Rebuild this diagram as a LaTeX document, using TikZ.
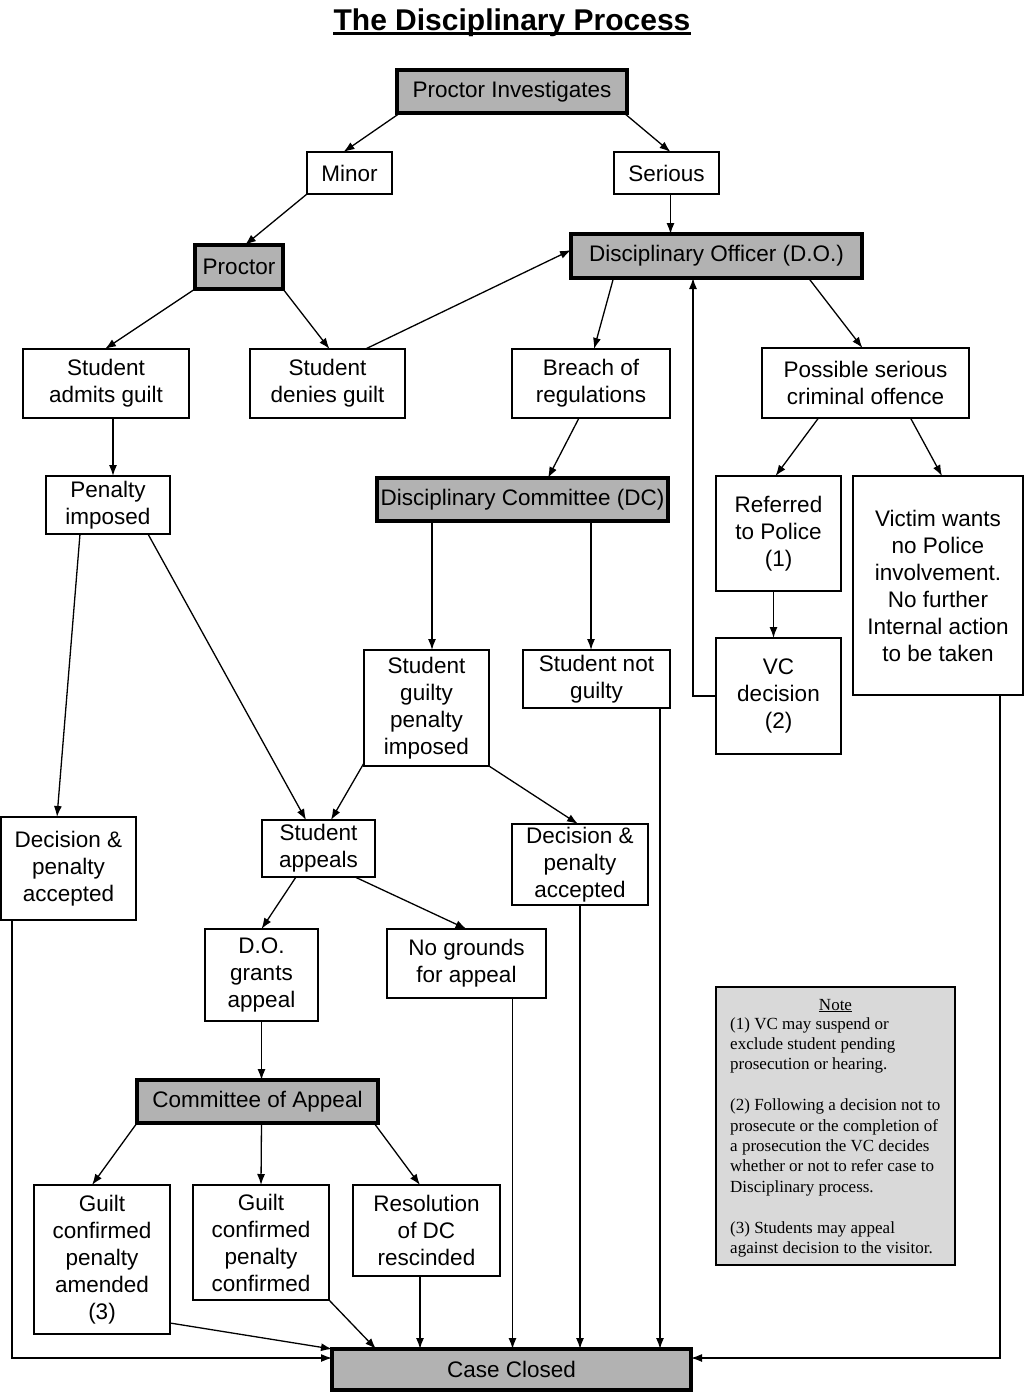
\documentclass[tikz,border=0pt]{standalone}
\usepackage{fontspec}
\setmainfont{Liberation Sans}
\newfontfamily\notefont{Liberation Serif}
\usepackage{tikz}
\usetikzlibrary{arrows.meta}
\definecolor{boxgray}{gray}{0.70}
\definecolor{notegray}{gray}{0.85}
\tikzset{>={Latex[length=11pt,width=8pt]}}
\tikzset{
  stage/.style={draw, line width=1.3pt, align=center, inner sep=0pt, outer sep=0pt,
                font=\fontsize{22.5}{27}\selectfont},
  mainstage/.style={stage, line width=4.5pt, fill=boxgray},
  boxsize/.style 2 args={minimum width=#1, minimum height=#2},
  link/.style={->, line width=1.3pt},
}

\begin{document}
\begin{tikzpicture}[x=1pt, y=-1pt]
  \useasboundingbox (0,0) rectangle (1024,1393);

  % titel
  \node[inner sep=0pt, anchor=base, font=\fontsize{30}{36}\selectfont\bfseries] (title) at (512,30) {The Disciplinary Process};
  \draw[line width=2.5pt] ([yshift=-3.5]title.base west) -- ([yshift=-3.5]title.base east);

  % boxes, placed at pixel coordinates
  \node[mainstage, boxsize={230}{43}] (pi)       at (512,91.5)    {Proctor Investigates};
  \node[stage, boxsize={85}{42}]      (minor)    at (349.5,173)   {Minor};
  \node[stage, boxsize={105}{42}]     (serious)  at (666.5,173)   {Serious};
  \node[mainstage, boxsize={88}{44}]  (proctor)  at (239,267)     {Proctor};
  \node[mainstage, boxsize={291}{44}] (do)       at (716.5,256)   {Disciplinary Officer (D.O.)};
  \node[stage, boxsize={166}{69}]     (admits)   at (106,383.5)   {Student\\admits guilt};
  \node[stage, boxsize={155}{69}]     (denies)   at (327.5,383.5) {Student\\denies guilt};
  \node[stage, boxsize={158}{69}]     (breach)   at (591,383.5)   {Breach of\\regulations};
  \node[stage, boxsize={207}{70}]     (possible) at (865.5,383)   {Possible serious\\criminal offence};
  \node[stage, boxsize={124}{58}]     (penalty)  at (108,505)     {Penalty\\imposed};
  \node[mainstage, boxsize={291}{43}] (dc)       at (522.5,499.5) {Disciplinary Committee (DC)};
  \node[stage, boxsize={125}{115}]    (referred) at (778.5,533.5) {Referred\\to Police\\(1)};
  \node[stage, boxsize={170}{219}]    (victim)   at (938,585.5)   {Victim wants\\no Police\\involvement.\\No further\\Internal action\\to be taken};
  \node[stage, boxsize={125}{116}]    (guilty)   at (426.5,708)   {Student\\guilty\\penalty\\imposed};
  \node[stage, boxsize={147}{58}]     (notguilty) at (596.5,679)  {Student not\\guilty};
  \node[stage, boxsize={125}{116}]    (vc)       at (778.5,696)   {VC\\decision\\(2)};
  \node[stage, boxsize={135}{103}]    (dec1)     at (68.5,868.5)  {Decision \&\\penalty\\accepted};
  \node[stage, boxsize={113}{57}]     (appeals)  at (318.5,848.5) {Student\\appeals};
  \node[stage, boxsize={136}{81}]     (dec2)     at (580,864.5)   {Decision \&\\penalty\\accepted};
  \node[stage, boxsize={113}{92}]     (dogrants) at (261.5,975)   {D.O.\\grants\\appeal};
  \node[stage, boxsize={159}{69}]     (nogrounds) at (466.5,963.5) {No grounds\\for appeal};
  \node[mainstage, boxsize={241}{43}] (coa)      at (257.5,1101.5) {Committee of Appeal};
  \node[stage, boxsize={136}{149}]    (amended)  at (102,1259.5)  {Guilt\\confirmed\\penalty\\amended\\(3)};
  \node[stage, boxsize={136}{115}]    (confirmed) at (261,1242.5) {Guilt\\confirmed\\penalty\\confirmed};
  \node[stage, boxsize={147}{91}]     (rescinded) at (426.5,1230.5) {Resolution\\of DC\\rescinded};
  \node[mainstage, boxsize={359}{41}] (closed)   at (511.5,1369.5) {Case Closed};

  % note
  \node[draw, line width=1.3pt, fill=notegray, boxsize={239}{278}] (note) at (835.5,1126) {};
  \node[inner sep=0pt, anchor=base, font=\notefont\fontsize{17}{20.4}\selectfont] (notehead) at (835.5,1010) {\underline{Note}};
  \node[inner sep=0pt, anchor=north west, align=left, font=\notefont\fontsize{17}{20.4}\selectfont] (notebody) at (730,1017)
    {(1) VC may suspend or\\
     exclude student pending\\
     prosecution or hearing.\\[20.4pt]
     (2) Following a decision not to\\
     prosecute or the completion of\\
     a prosecution the VC decides\\
     whether or not to refer case to\\
     Disciplinary process.\\[20.4pt]
     (3) Students may appeal\\
     against decision to the visitor.};

  % connectors
  \draw[link] ([xshift=3]pi.south west) -- ([xshift=-6]minor.north);
  \draw[link] ([xshift=-3]pi.south east) -- ([xshift=4]serious.north);
  \draw[link] (minor.south west) -- ([xshift=6]proctor.north);
  \draw[link] ([xshift=4]serious.south) -- ([xshift=4]serious.south |- do.north);
  \draw[link] (proctor.south west) -- ([xshift=-1]admits.north);
  \draw[link] (proctor.south east) -- ([xshift=2]denies.north);
  \draw[link] ([xshift=38]denies.north) -- ([yshift=6]do.west);
  \draw[link] ([xshift=-103]do.south) -- ([xshift=3]breach.north);
  \draw[link] ([xshift=92]do.south) -- ([xshift=-3]possible.north);
  \draw[link] ([xshift=-47]possible.south) -- ([xshift=-3]referred.north);
  \draw[link] ([xshift=45]possible.south) -- ([xshift=4]victim.north);
  \draw[link] ([xshift=-5]referred.south) -- ([xshift=-5]vc.north);
  \coordinate (back) at ([xshift=-23]vc.west);
  \draw[link] (vc.west) -- (back) -- (back |- do.south); % back to the D.O.
  \draw[link] ([xshift=7]admits.south) -- ([xshift=5]penalty.north);
  \draw[link] ([xshift=-12]breach.south) -- ([xshift=25.5]dc.north);
  \draw[link] ([xshift=-90.5]dc.south) -- ([xshift=5.5]guilty.north);
  \draw[link] ([xshift=68.5]dc.south) -- ([xshift=-5.5]notguilty.north);
  \draw[link] ([xshift=-28]penalty.south) -- ([xshift=-11.5]dec1.north);
  \draw[link] ([xshift=40]penalty.south) -- ([xshift=-12.5]appeals.north);
  \draw[link] ([yshift=3]guilty.south west) -- ([xshift=12.5]appeals.north);
  \draw[link] (guilty.south east) -- ([xshift=-2]dec2.north);
  \draw[link] ([xshift=-22.5]appeals.south) -- (dogrants.north);
  \draw[link] ([xshift=36.5]appeals.south) -- (nogrounds.north);
  \draw[link] (dogrants.south) -- ([xshift=4]coa.north);
  \draw[link] (coa.south west) -- ([xshift=-10]amended.north);
  \draw[link] ([xshift=4]coa.south) -- (confirmed.north);
  \draw[link] ([xshift=-4]coa.south east) -- ([xshift=-6.5]rescinded.north);

  % everything ends in case closed
  \draw[link] ([yshift=11]amended.south east) -- (closed.north west);
  \draw[link] (confirmed.south east) -- ([xshift=44]closed.north west);
  \draw[link] ([xshift=-6.5]rescinded.south) -- ([xshift=-6.5]rescinded.south |- closed.north);
  \draw[link] ([xshift=46]nogrounds.south) -- ([xshift=46]nogrounds.south |- closed.north);
  \draw[link] (dec2.south) -- (dec2.south |- closed.north);
  \draw[link] ([xshift=63.5]notguilty.south) -- ([xshift=63.5]notguilty.south |- closed.north);
  \draw[link] ([xshift=-56.5]dec1.south) |- ([yshift=11.5]closed.west);
  \draw[link] ([xshift=62]victim.south) |- ([yshift=11.5]closed.east);
\end{tikzpicture}
\end{document}
